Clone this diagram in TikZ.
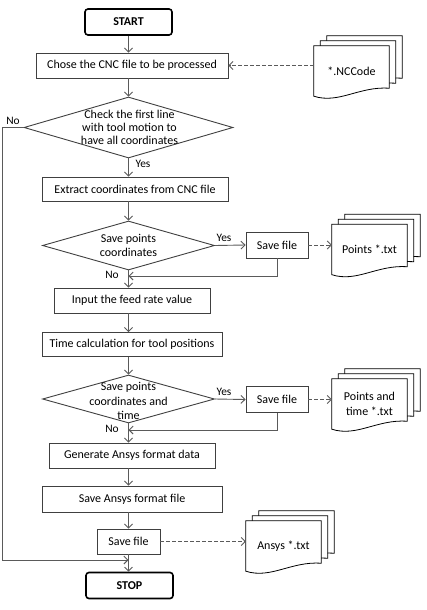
\documentclass[tikz,border=0pt]{standalone}
\usepackage{fontspec}
\setmainfont{Carlito}
\usetikzlibrary{shapes.geometric,arrows.meta,calc,backgrounds}
\definecolor{linegray}{HTML}{5A5A5A}
\definecolor{boxgray}{HTML}{404040}
\newcommand\docpage[3]{%
 ([shift={(#2,#3)}]#1.north west) -- ([shift={(#2,#3)}]#1.north east) -- ([shift={(#2,#3+8pt)}]#1.south east) .. controls ([shift={(#2+45pt,#3+10pt)}]#1.south west) and ([shift={(#2+25pt,#3-8pt)}]#1.south west) .. ([shift={(#2,#3)}]#1.south west) -- cycle}
\newcommand\drawdocstack[1]{%
 \begin{pgfonlayer}{background}
 \filldraw[docline] \docpage{#1}{13pt}{10pt};
 \filldraw[docline] \docpage{#1}{6.5pt}{5pt};
 \filldraw[docline] \docpage{#1}{0pt}{0pt};
 \end{pgfonlayer}}
\begin{document}
\begin{tikzpicture}[x=1pt,y=-1pt,
  line/.style={draw=linegray, line width=0.9pt},
  arr/.style={line, -{Straight Barb[length=4pt,width=8pt]}},
  darr/.style={arr, dash pattern=on 4pt off 2pt},
  box/.style={draw=boxgray, line width=0.9pt, fill=white, inner sep=0, minimum height=25pt, font=\fontsize{12}{14}\selectfont},
  term/.style={draw=black, line width=1.6pt, rounded corners=3pt, inner sep=0, minimum width=87pt, minimum height=26pt, font=\fontsize{12}{14}\selectfont\bfseries},
  dec/.style={diamond, draw=boxgray, line width=0.9pt, inner sep=0},
  dectext/.style={align=center, inner sep=0, font=\fontsize{12}{14.3}\selectfont},
  lab/.style={font=\fontsize{11.4}{13}\selectfont, inner sep=0},
  docn/.style={minimum width=75pt, minimum height=50pt, inner sep=0, align=center, font=\fontsize{12}{15}\selectfont},
  docline/.style={draw=black, line width=0.8pt, fill=white},
]
\useasboundingbox (0,0) rectangle (426,610);
\coordinate (sp) at (128.5,0);
% main flow
\node[term] (start) at (128.5,22) {START};
\node[box, minimum width=192pt] (b1) at (132,65.5) {Chose the CNC file to be processed};
\node[dec, minimum width=209pt, minimum height=61pt] (d1) at (128.5,127.5) {};
\node[dectext, font=\fontsize{12}{13.3}\selectfont] (d1t) at (129.5,127.5) {Check the first line\\with tool motion to\\have all coordinates};
\node[box, minimum width=186pt, minimum height=24pt] (b2) at (135,189) {Extract coordinates from CNC file};
\node[dec, minimum width=172pt, minimum height=49pt] (d2) at (128.5,245.5) {};
\node[dectext] (d2t) at (128.5,245.5) {Save points\\coordinates};
\node[box, minimum width=62pt, minimum height=26pt] (s1) at (277,245) {Save file};
\node[box, minimum width=156pt] (b3) at (132,300.5) {Input the feed rate value};
\node[box, minimum width=180pt, minimum height=24pt] (b4) at (132,344.5) {Time calculation for tool positions};
\node[dec, minimum width=172pt, minimum height=48pt] (d3) at (128.5,399) {};
\node[dectext] (d3t) at (128.5,401) {Save points\\coordinates and\\time};
\node[box, minimum width=62pt, minimum height=26pt] (s2) at (277,399.5) {Save file};
\node[box, minimum width=166pt] (b5) at (132,455.5) {Generate Ansys format data};
\node[box, minimum width=180pt, minimum height=26pt] (b6) at (132,499) {Save Ansys format file};
\node[box, minimum width=63pt, minimum height=25pt] (s3) at (128.5,541.5) {Save file};
\node[term] (stop) at (129.5,585.5) {STOP};
% documents
\node[docn] (f0) at (351.5,71) {*.NCCode};
\node[docn] (f1) at (369.5,249.5) {Points *.txt};
\node[docn] (f2) at (369.5,404) {Points and\\time *.txt};
\node[docn] (f3) at (283.5,546) {Ansys *.txt};
\drawdocstack{f0}
\drawdocstack{f1}
\drawdocstack{f2}
\drawdocstack{f3}
% connectors
\coordinate (r1) at (128.5,276);
\coordinate (r2) at (128.5,430);
\coordinate (nl) at (2,560);
\coordinate (r3) at (128.5,560);
\draw[arr] (start.south -| sp) -- (b1.north -| sp);
\draw[darr] (b1.east -| f0.west) -- (b1.east);
\draw[arr] (b1.south -| sp) -- (d1.north);
\draw[arr] (d1.south) -- (b2.north -| sp);
\draw[arr] (b2.south -| sp) -- (d2.north);
\draw[arr] (d2.east) -- (s1.west);
\draw[darr] (s1.east) -- (s1.east -| f1.west);
\draw[arr] (s1.south) |- (r1);
\draw[arr] (d2.south) -- (b3.north -| sp);
\draw[arr] (b3.south -| sp) -- (b4.north -| sp);
\draw[arr] (b4.south -| sp) -- (d3.north);
\draw[arr] (d3.east) -- (s2.west);
\draw[darr] (s2.east) -- (s2.east -| f2.west);
\draw[arr] (s2.south) |- (r2);
\draw[arr] (d3.south) -- (b5.north -| sp);
\draw[arr] (b5.south -| sp) -- (b6.north -| sp);
\draw[arr] (b6.south -| sp) -- (s3.north -| sp);
\draw[darr] (s3.east) -- (s3.east -| f3.west);
\draw[arr] (s3.south -| sp) -- (stop.north -| sp);
\draw[arr] (d1.west) -| (nl) -- (r3);
% labels
\node[lab] (no1) at (13,121) {No};
\node[lab] (yes1) at (143,164) {Yes};
\node[lab] (yes2) at (224,238) {Yes};
\node[lab] (no2) at (112,275) {No};
\node[lab] (yes3) at (224,392) {Yes};
\node[lab] (no3) at (112,429) {No};
\end{tikzpicture}
\end{document}
